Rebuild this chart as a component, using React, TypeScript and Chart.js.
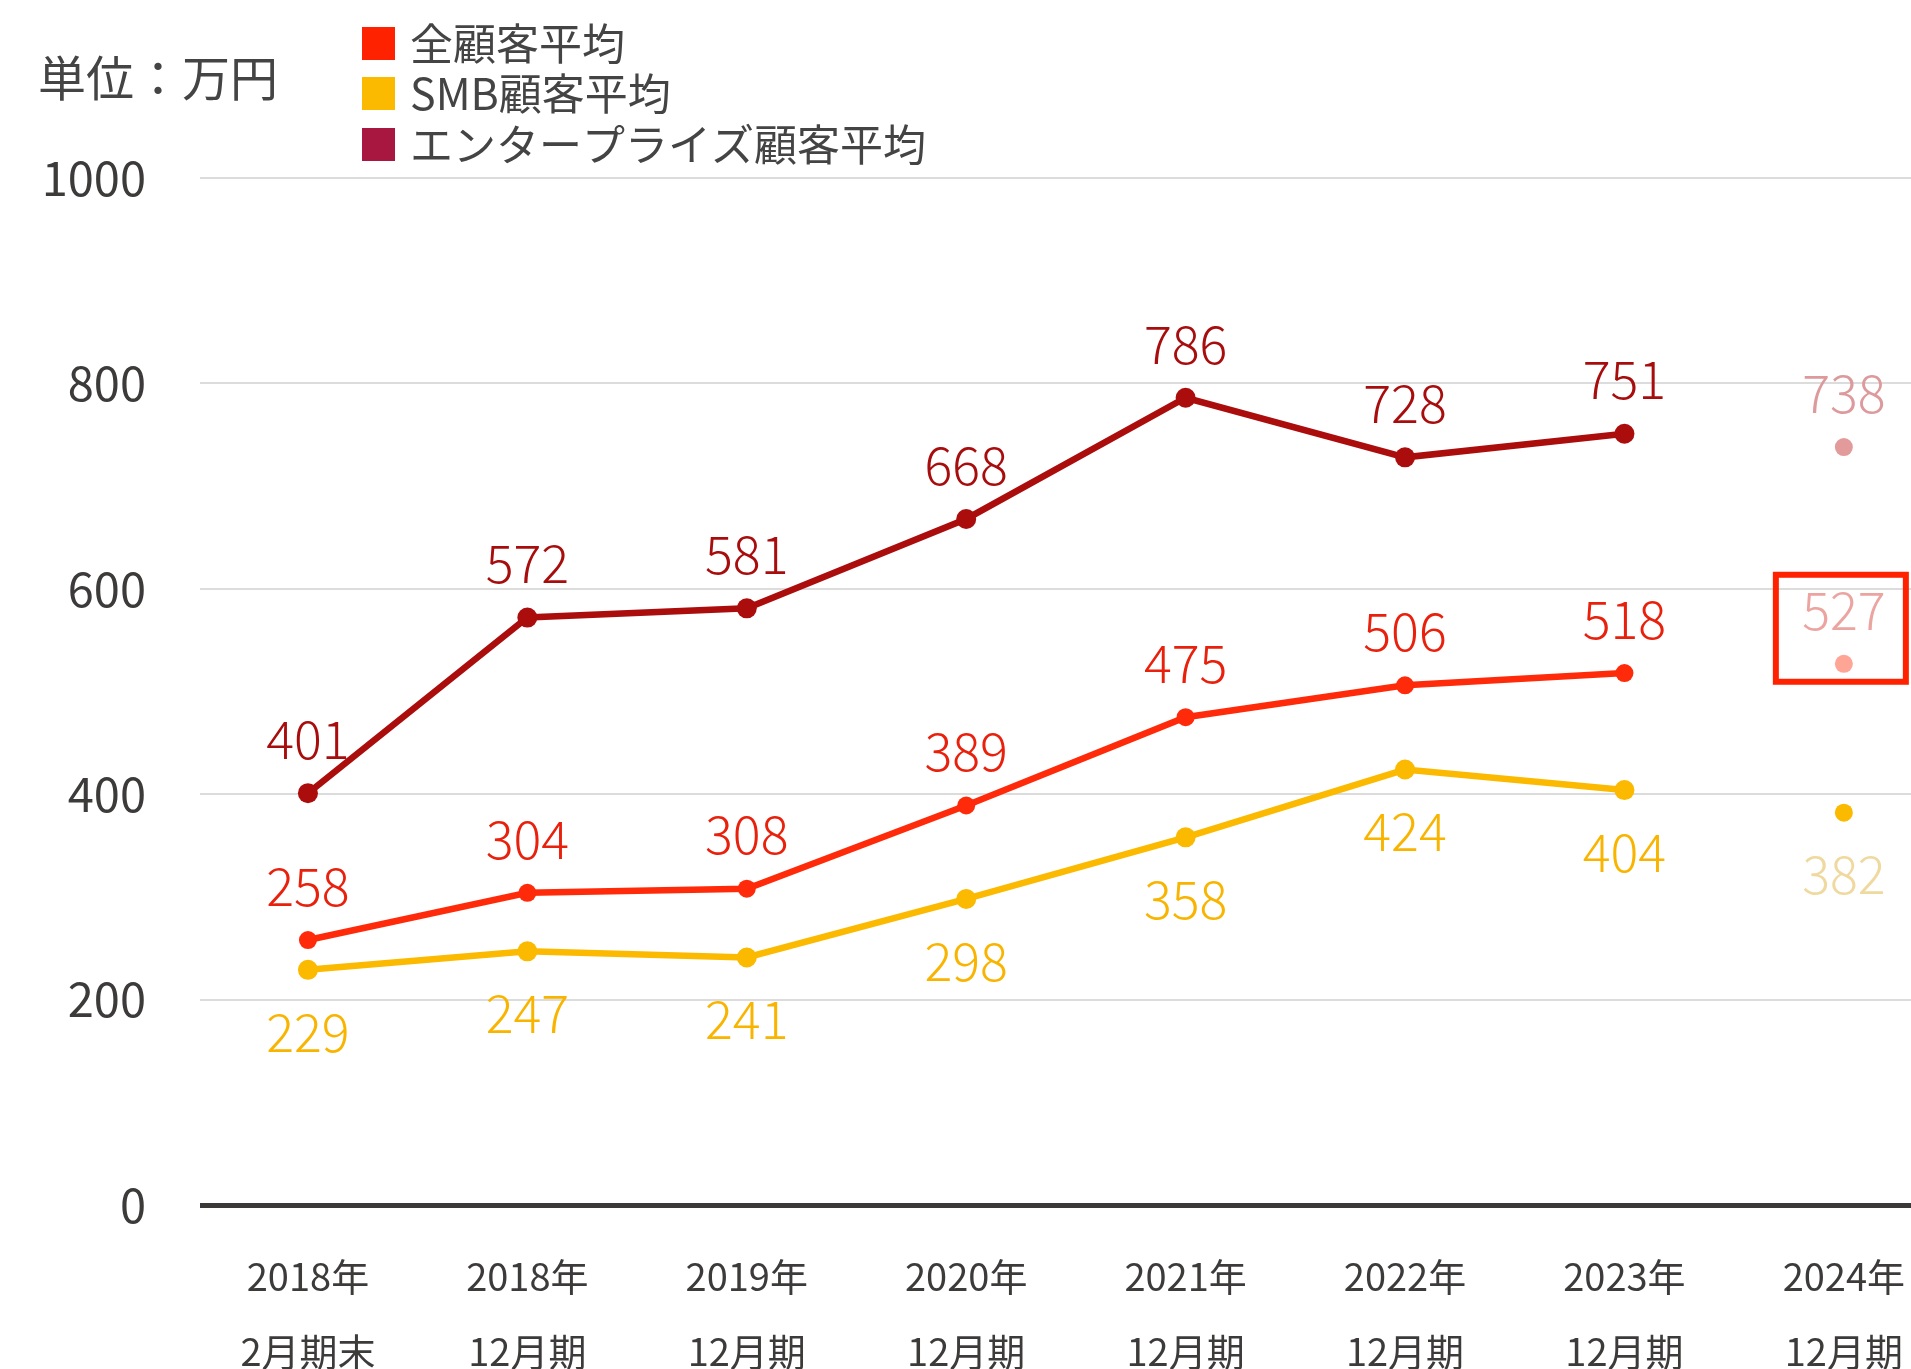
import React, { useEffect, useRef } from "react";
import { Chart, registerables } from "chart.js";

Chart.register(...registerables);

const xLabels: string[][] = [
  ["2018年", "2月期末"],
  ["2018年", "12月期"],
  ["2019年", "12月期"],
  ["2020年", "12月期"],
  ["2021年", "12月期"],
  ["2022年", "12月期"],
  ["2023年", "12月期"],
  ["2024年", "12月期"],
];

const seriesNames = ["全顧客平均", "SMB顧客平均", "エンタープライズ顧客平均"];
const allAvg = [258, 304, 308, 389, 475, 506, 518];
const smbAvg = [229, 247, 241, 298, 358, 424, 404];
const entAvg = [401, 572, 581, 668, 786, 728, 751];
const allAvg2024 = [527];
const smbAvg2024 = [382];
const entAvg2024 = [738];
const yTicks = [0, 200, 400, 600, 800, 1000];
const unitLabel = "単位：万円";

const FONT = "'Noto Sans CJK JP', 'Noto Sans', sans-serif";

const legendColors = ["#ff2200", "#fbb900", "#a8173f"];

const toPts = (arr: number[], start = 0) => arr.map((v, i) => ({ x: i + start, y: v }));

export default function App() {
  const ref = useRef<HTMLCanvasElement>(null);

  useEffect(() => {
    if (!ref.current) return;

    const overlay = {
      id: "overlay",
      afterDatasetsDraw(chart: any) {
        const ctx = chart.ctx;
        ctx.save();
        chart.data.datasets.forEach((ds: any, di: number) => {
          const meta = chart.getDatasetMeta(di);
          meta.data.forEach((pt: any, i: number) => {
            const v = ds.data[i].y;
            ctx.font = `300 52px ${FONT}`;
            ctx.fillStyle = ds.labelColor;
            ctx.textAlign = "center";
            ctx.textBaseline = "middle";
            const dy = ds.labelBelow ? 62 : -54;
            ctx.fillText(String(v), pt.x, pt.y + dy);
          });
        });
        const hi = chart.getDatasetMeta(3).data[0];
        if (hi) {
          ctx.strokeStyle = "#ff2200";
          ctx.lineWidth = 6;
          ctx.strokeRect(hi.x - 68, hi.y - 89, 130, 107);
        }
        ctx.restore();
      },
      afterDraw(chart: any) {
        const ctx = chart.ctx;
        ctx.save();
        ctx.fillStyle = "#444444";
        ctx.font = `48px ${FONT}`;
        ctx.textAlign = "left";
        ctx.textBaseline = "middle";
        ctx.fillText(unitLabel, 38, 78);
        const rows = [43, 93, 144];
        seriesNames.forEach((name, i) => {
          ctx.fillStyle = legendColors[i];
          ctx.fillRect(362, rows[i] - 16, 33, 33);
          ctx.fillStyle = "#444444";
          ctx.font = `43px ${FONT}`;
          ctx.fillText(name, 410, rows[i] + 1);
        });
        ctx.restore();
      },
    };

    const chart = new Chart(ref.current, {
      type: "line",
      data: {
        datasets: [
          {
            label: seriesNames[0],
            data: toPts(allAvg),
            borderColor: "#ff2a0a",
            backgroundColor: "#ff2a0a",
            borderWidth: 6.5,
            pointRadius: 9,
            pointBorderWidth: 0,
            labelColor: "#e8200c",
            labelBelow: false,
          } as any,
          {
            label: seriesNames[1],
            data: toPts(smbAvg),
            borderColor: "#fbb900",
            backgroundColor: "#fbb900",
            borderWidth: 6.5,
            pointRadius: 10,
            pointBorderWidth: 0,
            labelColor: "#f9b400",
            labelBelow: true,
          } as any,
          {
            label: seriesNames[2],
            data: toPts(entAvg),
            borderColor: "#ab0d0d",
            backgroundColor: "#ab0d0d",
            borderWidth: 6.5,
            pointRadius: 10,
            pointBorderWidth: 0,
            labelColor: "#a80d0d",
            labelBelow: false,
          } as any,
          {
            label: "all2024",
            data: toPts(allAvg2024, 7),
            showLine: false,
            borderColor: "#ffa596",
            backgroundColor: "#ffa596",
            pointRadius: 9,
            pointBorderWidth: 0,
            labelColor: "#eca4a0",
            labelBelow: false,
          } as any,
          {
            label: "smb2024",
            data: toPts(smbAvg2024, 7),
            showLine: false,
            borderColor: "#fbb900",
            backgroundColor: "#fbb900",
            pointRadius: 9,
            pointBorderWidth: 0,
            labelColor: "#efd99e",
            labelBelow: true,
          } as any,
          {
            label: "ent2024",
            data: toPts(entAvg2024, 7),
            showLine: false,
            borderColor: "#e29a9b",
            backgroundColor: "#e29a9b",
            pointRadius: 9,
            pointBorderWidth: 0,
            labelColor: "#dd9a9c",
            labelBelow: false,
          } as any,
        ],
      },
      options: {
        responsive: false,
        animation: false,
        layout: { autoPadding: false, padding: { top: 178, left: 0, right: 0, bottom: 0 } },
        plugins: { legend: { display: false }, tooltip: { enabled: false } },
        scales: {
          x: {
            type: "linear",
            min: -0.492,
            max: 7.306,
            grid: { display: false, drawTicks: false },
            border: { display: false },
            afterBuildTicks: (scale: any) => {
              scale.ticks = xLabels.map((_, i) => ({ value: i }));
            },
            afterFit: (scale: any) => {
              scale.height = 164;
              scale.paddingLeft = 0;
              scale.paddingRight = 0;
            },
            ticks: {
              autoSkip: false,
              maxRotation: 0,
              padding: 35,
              color: "#3d3a3a",
              font: { family: FONT, size: 38, lineHeight: 1.95 },
              callback: (v: any) => xLabels[v] ?? "",
            },
          },
          y: {
            min: 0,
            max: 1000,
            afterBuildTicks: (scale: any) => {
              scale.ticks = yTicks.map((v) => ({ value: v }));
            },
            afterFit: (scale: any) => {
              scale.width = 200;
              scale.paddingTop = 0;
              scale.paddingBottom = 0;
            },
            grid: {
              drawTicks: false,
              color: (c: any) => (c.tick && c.tick.value === 0 ? "#3b3838" : "#dcdcdc"),
              lineWidth: (c: any) => (c.tick && c.tick.value === 0 ? 5 : 2),
            },
            border: { display: false },
            ticks: {
              padding: 54,
              color: "#3d3a3a",
              font: { family: FONT, size: 47 },
              callback: (v: any) => String(v),
            },
          },
        },
      } as any,
      plugins: [overlay],
    });

    return () => chart.destroy();
  }, []);

  return (
    <div style={{ position: "absolute", left: 0, top: 0, width: 1911, height: 1369, background: "#fff" }}>
      <canvas ref={ref} width={1911} height={1369} />
    </div>
  );
}
